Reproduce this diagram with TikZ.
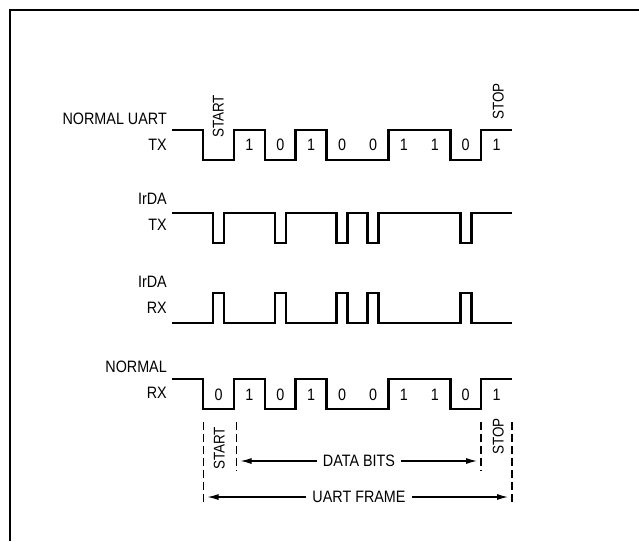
\documentclass[tikz,border=0pt]{standalone}
\usepackage{fontspec}
\setmainfont{Liberation Sans}[FakeStretch=0.87]
\usetikzlibrary{arrows.meta}

\begin{document}
\begin{tikzpicture}[x=1pt, y=-1pt, >={Latex[length=11pt,width=6pt]}]

  \tikzstyle{L}=[align=right, anchor=base east, inner sep=0pt, font=\fontsize{16.5}{25.5}\selectfont]
  \tikzstyle{D}=[anchor=base, inner sep=0pt, font=\fontsize{16.5}{20}\selectfont]
  \tikzstyle{R}=[rotate=90, anchor=base west, inner sep=0pt, font=\fontsize{15.5}{18}\selectfont]
  \tikzstyle{A}=[inner sep=6pt, font=\fontsize{16.5}{20}\selectfont]
  \tikzstyle{W}=[line width=2.6pt]
  \tikzstyle{M}=[dash pattern=on 8pt off 4pt, line width=1.2pt]

  \useasboundingbox (0,0) rectangle (639,541);
  \draw [line width=2pt] (10,541) -- (10,10) -- (639,10);

  % signal names
  \node[L] at (167,150) (nameTX) {NORMAL UART\\TX};
  \node[L] at (167,230) (nameITX) {IrDA\\TX};
  \node[L] at (167,313) (nameIRX) {IrDA\\RX};
  \node[L] at (167,398) (nameRX) {NORMAL\\RX};

  % normal uart tx
  \draw [W] (172,130) -| (203,160) -| (233.9,130) -| (264.8,160) -| (295.7,130)
    -| (326.6,160) -| (388.4,130) -| (450.2,160) -| (481.1,130) -- (512,130);
  \node[R] at (223.5,138) (startTX) {START};
  \node[R] at (503.5,120) (stopTX) {STOP};
  \node[D] at (249.4,150.5) (tx1) {1};
  \node[D] at (280.3,150.5) (tx2) {0};
  \node[D] at (311.2,150.5) (tx3) {1};
  \node[D] at (342.1,150.5) (tx4) {0};
  \node[D] at (373.0,150.5) (tx5) {0};
  \node[D] at (403.9,150.5) (tx6) {1};
  \node[D] at (434.8,150.5) (tx7) {1};
  \node[D] at (465.7,150.5) (tx8) {0};
  \node[D] at (496.6,150.5) (tx9) {1};

  % irda tx
  \draw [W] (172,213) -| (213,243) -| (224,213) -| (274.8,243) -| (285.8,213)
    -| (336.5,243) -| (347.5,213) -| (367.5,243) -| (378.5,213)
    -| (460.2,243) -| (471.2,213) -- (512,213);

  % irda rx
  \draw [W] (172,323) -| (213,293) -| (224,323) -| (274.8,293) -| (285.8,323)
    -| (336.5,293) -| (347.5,323) -| (367.5,293) -| (378.5,323)
    -| (460.2,293) -| (471.2,323) -- (512,323);

  % normal rx
  \draw [W] (172,379) -| (203,409) -| (233.9,379) -| (264.8,409) -| (295.7,379)
    -| (326.6,409) -| (388.4,379) -| (450.2,409) -| (481.1,379) -- (512,379);
  \node[D] at (218.5,400) (rx0) {0};
  \node[D] at (249.4,400) (rx1) {1};
  \node[D] at (280.3,400) (rx2) {0};
  \node[D] at (311.2,400) (rx3) {1};
  \node[D] at (342.1,400) (rx4) {0};
  \node[D] at (373.0,400) (rx5) {0};
  \node[D] at (403.9,400) (rx6) {1};
  \node[D] at (434.8,400) (rx7) {1};
  \node[D] at (465.7,400) (rx8) {0};
  \node[D] at (496.6,400) (rx9) {1};

  % frame markers
  \draw [M] (203.3,422) -- (203.3,503);
  \draw [M] (236.5,422) -- (236.5,471);
  \draw [M] (481,422) -- (481,471);
  \draw [M] (512,422) -- (512,503);
  \node[R] at (224.5,470) (startRX) {START};
  \node[R] at (503.5,455) (stopRX) {STOP};

  \node[A] at (359,461) (databits) {DATA BITS};
  \coordinate (dbL) at (240.5,461);
  \coordinate (dbR) at (477,461);
  \draw [line width=1.2pt, ->] (databits.west) to (dbL);
  \draw [line width=1.2pt, ->] (databits.east) to (dbR);

  \node[A] at (359,497) (frame) {UART FRAME};
  \coordinate (frL) at (207.5,497);
  \coordinate (frR) at (508,497);
  \draw [line width=1.2pt, ->] (frame.west) to (frL);
  \draw [line width=1.2pt, ->] (frame.east) to (frR);

\end{tikzpicture}
\end{document}
